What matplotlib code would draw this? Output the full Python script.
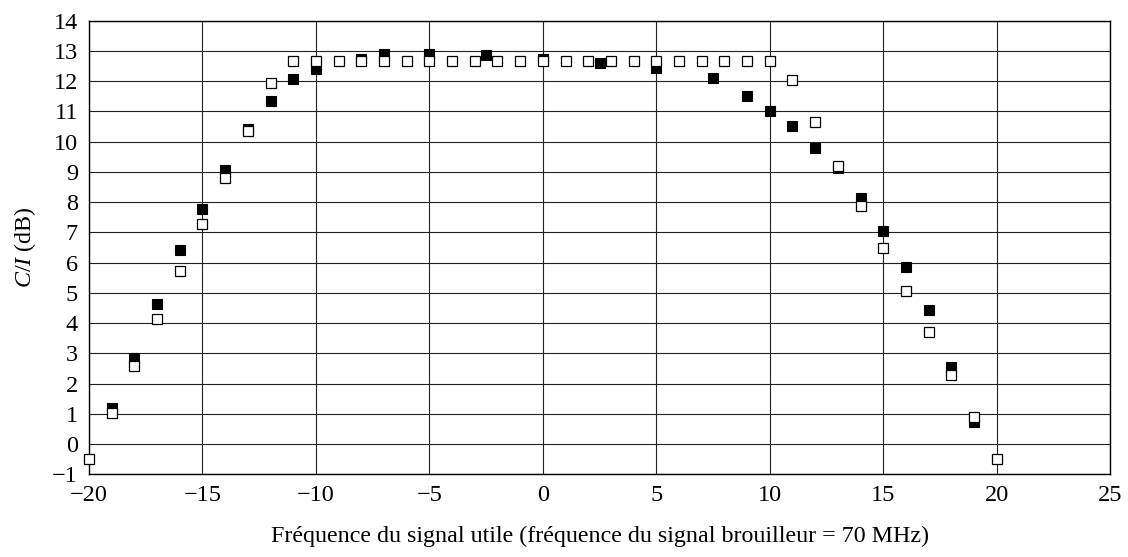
import numpy as np
import matplotlib
matplotlib.use("Agg")
import matplotlib.pyplot as plt

plt.rcParams['font.family'] = ['Liberation Serif', 'DejaVu Serif']
plt.rcParams['mathtext.fontset'] = 'custom'
plt.rcParams['mathtext.rm'] = 'Liberation Serif'
plt.rcParams['mathtext.it'] = 'Liberation Serif:italic'

## données
freq_open = [-20, -19, -18, -17, -16, -15, -14, -13, -12, -11,
             -10, -9, -8, -7, -6, -5, -4, -3, -2, -1, 0,
             1, 2, 3, 4, 5, 6, 7, 8, 9, 10,
             11, 12, 13, 14, 15, 16, 17, 18, 19, 20]
ci_open = [-0.5, 1.04, 2.58, 4.14, 5.72, 7.27, 8.81, 10.35, 11.93, 12.67,
           12.67, 12.67, 12.67, 12.67, 12.67, 12.67, 12.67, 12.67, 12.67, 12.67, 12.67,
           12.67, 12.67, 12.67, 12.67, 12.67, 12.67, 12.67, 12.67, 12.67, 12.67,
           12.05, 10.65, 9.2, 7.87, 6.47, 5.07, 3.7, 2.28, 0.88, -0.5]

freq_filled = [-19, -18, -17, -16, -15, -14, -13, -12, -11, -10,
               -8, -7, -5, -2.5, 0, 2.5, 5, 7.5, 9, 10,
               11, 12, 13, 14, 15, 16, 17, 18, 19]
ci_filled = [1.2, 2.86, 4.62, 6.42, 7.76, 9.06, 10.43, 11.35, 12.06, 12.4,
             12.73, 12.9, 12.91, 12.87, 12.73, 12.61, 12.44, 12.1, 11.5, 11.0,
             10.52, 9.8, 9.12, 8.15, 7.05, 5.86, 4.43, 2.56, 0.74]

x_ticks = [-20, -15, -10, -5, 0, 5, 10, 15, 20, 25]
y_ticks = list(range(-1, 15))

fig = plt.figure(figsize=(11.28, 5.57), dpi=100)
ax = fig.add_axes([0.0789, 0.1485, 0.9053, 0.8143])

ax.plot(freq_filled, ci_filled, linestyle='none', marker='s', markersize=7.2,
        markerfacecolor='black', markeredgecolor='black', markeredgewidth=0.8,
        zorder=3, clip_on=False)
ax.plot(freq_open, ci_open, linestyle='none', marker='s', markersize=7.2,
        markerfacecolor='white', markeredgecolor='black', markeredgewidth=0.9,
        zorder=4, clip_on=False)

ax.set_xlim(-20, 25)
ax.set_ylim(-1, 14)
ax.set_xticks(x_ticks)
ax.set_yticks(y_ticks)
ax.grid(True, color='#222222', linewidth=0.8)
ax.set_axisbelow(True)
ax.tick_params(length=0, labelsize=17.5, pad=8)
for sp in ax.spines.values():
    sp.set_linewidth(1.0)

ax.set_xlabel('Fréquence du signal utile (fréquence du signal brouilleur = 70 MHz)',
              fontsize=17.3, labelpad=14)
ax.set_ylabel(r'$C/I$ (dB)', fontsize=17.3, labelpad=10)

fig.savefig('out.png', dpi=100)
